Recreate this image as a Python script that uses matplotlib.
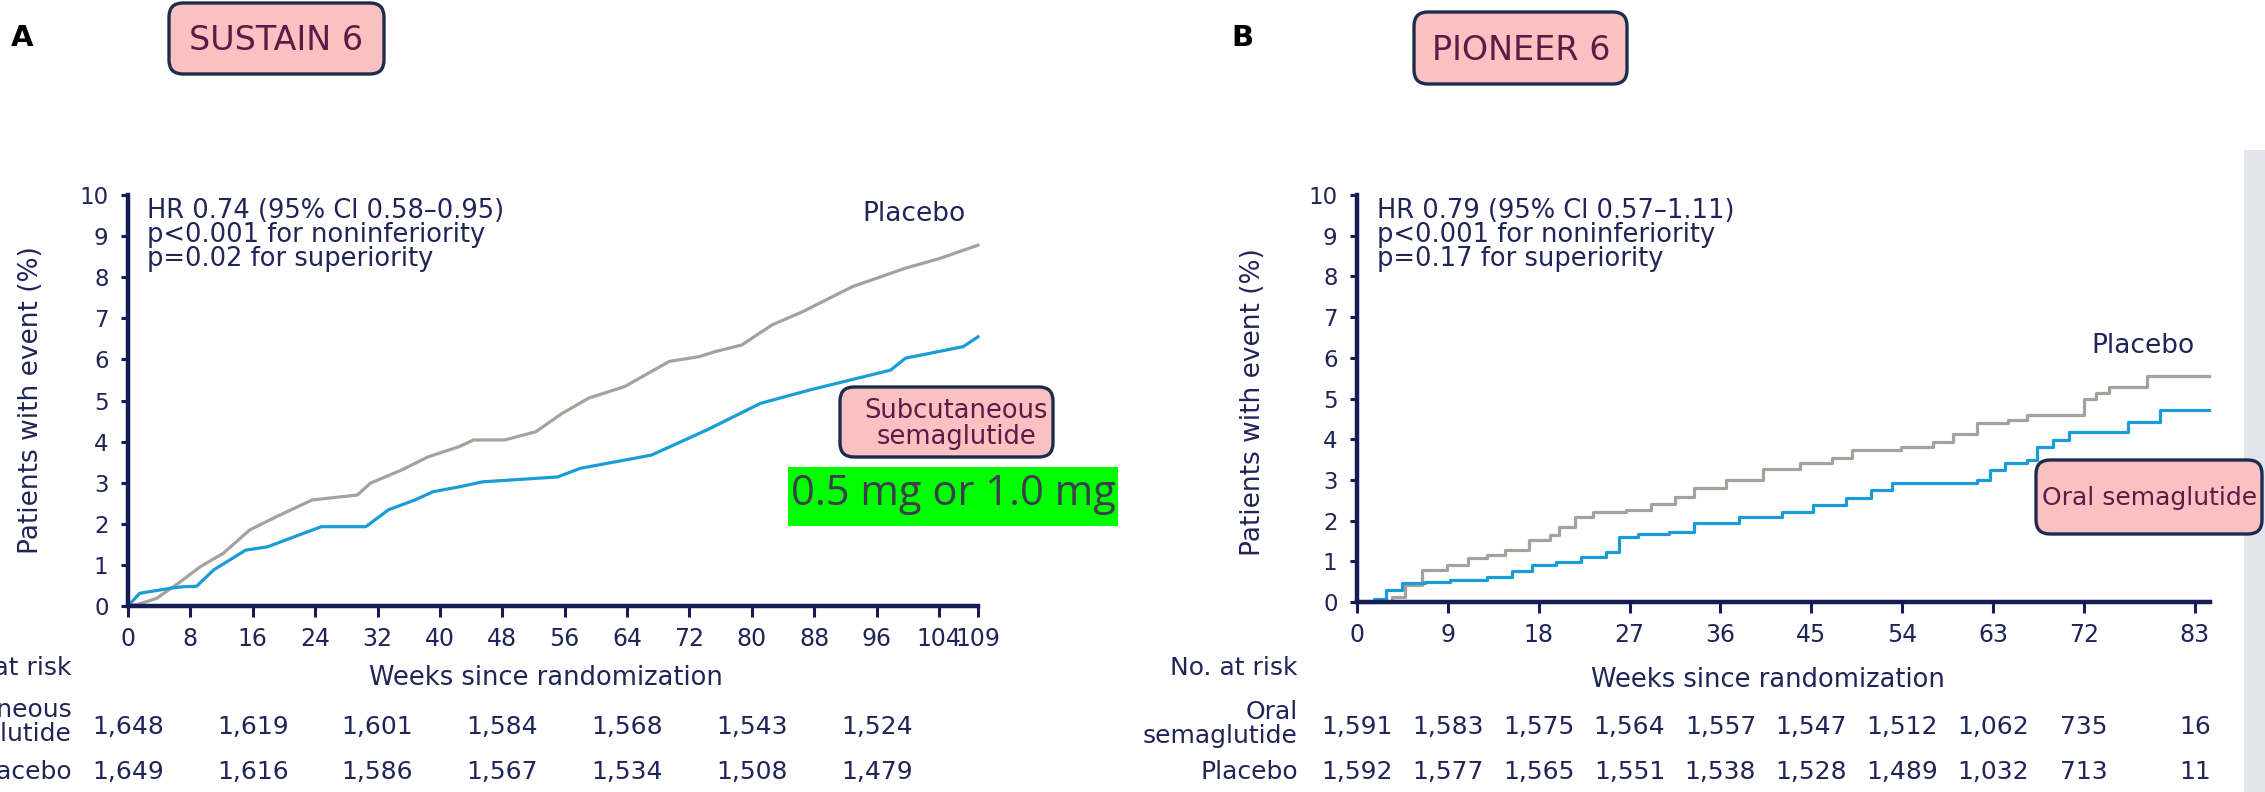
import matplotlib
matplotlib.use("Agg")

import matplotlib.pyplot as plt
from matplotlib.patches import FancyBboxPatch, Rectangle
from matplotlib.transforms import IdentityTransform, blended_transform_factory

W, H = 2265, 792
NAVY = "#161d55"
TEXT = "#1f2557"
GREY = "#a7a19b"
BLUE = "#1a9dd6"
PINK = "#f9c1c1"
BOX_EDGE = "#1e2c4c"
PLUM = "#5a1c45"

# ---- panel A: SUSTAIN 6 ----
sustain_placebo_weeks = [0, 1.5, 3.7, 6.5, 9.3, 12.2, 15.6, 19, 23.6, 29.4, 31.1, 35.1, 38.5, 42.5, 44.3,
                         48.3, 52.3, 55.7, 59.1, 63.7, 69.4, 73.3, 75.3, 78.7, 82.6, 86.5, 92.9, 99.7, 104, 109]
sustain_placebo = [0, 0.05, 0.19, 0.56, 0.96, 1.28, 1.85, 2.17, 2.58, 2.7, 2.99, 3.31, 3.63, 3.88, 4.04,
                   4.04, 4.24, 4.69, 5.06, 5.34, 5.95, 6.07, 6.19, 6.35, 6.84, 7.16, 7.77, 8.22, 8.45, 8.78]
sustain_sema_weeks = [0, 1.5, 5.4, 7.1, 8.8, 11, 15.1, 17.9, 21.4, 24.8, 30.5, 33.4, 36.8, 39.1, 42.5, 45.4,
                      55.1, 58, 63.7, 67.1, 74.2, 81.1, 87.5, 97.8, 99.7, 107.1, 109]
sustain_sema = [0, 0.31, 0.43, 0.47, 0.48, 0.88, 1.36, 1.44, 1.69, 1.93, 1.93, 2.34, 2.58, 2.78, 2.9, 3.02,
                3.14, 3.35, 3.55, 3.67, 4.28, 4.93, 5.26, 5.74, 6.03, 6.31, 6.55]
sustain_ticks = [0, 8, 16, 24, 32, 40, 48, 56, 64, 72, 80, 88, 96, 104, 109]
sustain_risk_weeks = [0, 16, 32, 48, 64, 80, 96]
sustain_risk_sema = ["1,648", "1,619", "1,601", "1,584", "1,568", "1,543", "1,524"]
sustain_risk_placebo = ["1,649", "1,616", "1,586", "1,567", "1,534", "1,508", "1,479"]
sustain_stats = "HR 0.74 (95% Cl 0.58\u20130.95)\np<0.001 for noninferiority\np=0.02 for superiority"

# ---- panel B: PIONEER 6 ----
pioneer_placebo_weeks = [0, 3.5, 4.8, 6.4, 8.9, 11.0, 12.9, 14.7, 17.0, 19.1, 20.0, 21.6, 23.4, 26.6, 29.1,
                         31.5, 33.4, 36.6, 40.2, 43.9, 47.1, 49.0, 53.9, 57.1, 59.0, 61.4, 64.5, 66.4, 72.0,
                         73.2, 74.5, 78.3, 84.4]
pioneer_placebo = [0, 0.13, 0.42, 0.79, 0.91, 1.07, 1.16, 1.28, 1.52, 1.65, 1.85, 2.1, 2.22, 2.26, 2.42,
                   2.59, 2.79, 3.0, 3.28, 3.41, 3.53, 3.73, 3.81, 3.94, 4.14, 4.39, 4.47, 4.59, 5.0,
                   5.13, 5.29, 5.55, 5.55]
pioneer_sema_weeks = [0, 1.7, 2.9, 4.5, 6.7, 9.2, 12.9, 15.4, 17.3, 19.7, 22.2, 24.7, 26.0, 27.8, 30.9, 33.4,
                      37.8, 42.1, 45.2, 48.4, 50.9, 53.0, 61.4, 62.7, 64.2, 66.4, 67.4, 68.9, 70.5, 76.4,
                      79.5, 84.4]
pioneer_sema = [0, 0.07, 0.29, 0.46, 0.5, 0.54, 0.62, 0.75, 0.91, 0.99, 1.11, 1.24, 1.6, 1.68, 1.72, 1.93,
                2.1, 2.22, 2.38, 2.55, 2.75, 2.92, 3.0, 3.24, 3.41, 3.49, 3.82, 3.98, 4.18, 4.43,
                4.72, 4.72]
pioneer_ticks = [0, 9, 18, 27, 36, 45, 54, 63, 72, 83]
pioneer_risk_sema = ["1,591", "1,583", "1,575", "1,564", "1,557", "1,547", "1,512", "1,062", "735", "16"]
pioneer_risk_placebo = ["1,592", "1,577", "1,565", "1,551", "1,538", "1,528", "1,489", "1,032", "713", "11"]
pioneer_stats = "HR 0.79 (95% Cl 0.57\u20131.11)\np<0.001 for noninferiority\np=0.17 for superiority"

fig = plt.figure(figsize=(W / 100, H / 100), dpi=100)
fig.patch.set_facecolor("white")
px = IdentityTransform()


def fy(y):
    # pixel rows are counted from the top in the reference
    return H - y


def put(x, y, s, **kw):
    kw.setdefault("color", TEXT)
    kw.setdefault("zorder", 8)
    return fig.text(x, fy(y), s, transform=px, **kw)


def label_box(x0, y0, x1, y1, face=PINK, rounded=True):
    style = "round,pad=0,rounding_size=14" if rounded else "square,pad=0"
    edge = BOX_EDGE if rounded else "none"
    fig.add_artist(FancyBboxPatch((x0, fy(y1)), x1 - x0, y1 - y0, boxstyle=style, transform=px,
                                  facecolor=face, edgecolor=edge, linewidth=2.4, zorder=6))


def setup_axes(x0, x1, y_top, y_bottom, xlim, ticks):
    ax = fig.add_axes([x0 / W, 1 - y_bottom / H, (x1 - x0) / W, (y_bottom - y_top) / H])
    ax.set_xlim(*xlim)
    ax.set_ylim(0, 10)
    ax.patch.set_alpha(0)
    for side in ("top", "right"):
        ax.spines[side].set_visible(False)
    for side in ("left", "bottom"):
        ax.spines[side].set_color(NAVY)
        ax.spines[side].set_linewidth(3.2)
        ax.spines[side].set_zorder(5)
    ax.set_xticks(ticks)
    ax.set_xticklabels([str(t) for t in ticks])
    ax.set_yticks(range(0, 11))
    ax.tick_params(axis="x", direction="out", length=8, width=2.2, color=NAVY,
                   labelsize=17, labelcolor=TEXT, pad=7)
    ax.tick_params(axis="y", direction="out", length=5, width=2.2, color=NAVY,
                   labelsize=16.5, labelcolor=TEXT, pad=9)
    return ax


# ---------------- panel A ----------------
ax_a = setup_axes(128, 978, 195, 606, (0, 109), sustain_ticks)
ax_a.plot(sustain_placebo_weeks, sustain_placebo, color=GREY, lw=2.3, clip_on=False, zorder=3)
ax_a.plot(sustain_sema_weeks, sustain_sema, color=BLUE, lw=2.3, clip_on=False, zorder=4)

put(22, 38, "A", fontsize=21, fontweight="bold", color="black", ha="center", va="center")
label_box(169, 3, 384, 74)
put(276, 40, "SUSTAIN 6", fontsize=24, color=PLUM, ha="center", va="center")

put(147, 235, sustain_stats, fontsize=18.5, ha="left", va="center", linespacing=0.92)
put(914, 214, "Placebo", fontsize=19, ha="center", va="center")
label_box(840, 387, 1053, 457)
put(956, 424, "Subcutaneous\nsemaglutide", fontsize=18.5, color=PLUM, ha="center", va="center",
    linespacing=0.95)
label_box(788, 467, 1118, 526, face="#00ff00", rounded=False)
put(953, 494, "0.5 mg or 1.0 mg", fontsize=30, family="Open Sans", color="#3d3d4d",
    ha="center", va="center")

put(31, 400, "Patients with event (%)", fontsize=19, rotation=90, ha="center", va="center")
put(546, 678, "Weeks since randomization", fontsize=18.5, ha="center", va="center")
put(72, 668, "No. at risk", fontsize=18, ha="right", va="center")
put(72, 722, "Subcutaneous\nsemaglutide", fontsize=18, ha="right", va="center", linespacing=0.95)
put(72, 772, "Placebo", fontsize=18, ha="right", va="center")

risk_a = blended_transform_factory(ax_a.transData, px)
for wk, n1, n2 in zip(sustain_risk_weeks, sustain_risk_sema, sustain_risk_placebo):
    ax_a.text(wk, fy(727), n1, transform=risk_a, fontsize=18, color=TEXT, ha="center", va="center", clip_on=False)
    ax_a.text(wk, fy(772), n2, transform=risk_a, fontsize=18, color=TEXT, ha="center", va="center", clip_on=False)

# ---------------- panel B ----------------
ax_b = setup_axes(1357, 2210, 195, 602, (0, 84.5), pioneer_ticks)
ax_b.plot(pioneer_placebo_weeks, pioneer_placebo, color=GREY, lw=2.3, drawstyle="steps-post",
          clip_on=False, zorder=3)
ax_b.plot(pioneer_sema_weeks, pioneer_sema, color=BLUE, lw=2.3, drawstyle="steps-post",
          clip_on=False, zorder=4)

put(1242, 38, "B", fontsize=21, fontweight="bold", color="black", ha="center", va="center")
label_box(1414, 12, 1627, 84)
put(1521, 50, "PIONEER 6", fontsize=24, color=PLUM, ha="center", va="center")

put(1377, 235, pioneer_stats, fontsize=18.5, ha="left", va="center", linespacing=0.92)
put(2143, 346, "Placebo", fontsize=19, ha="center", va="center")
label_box(2036, 460, 2262, 534)
put(2150, 498, "Oral semaglutide", fontsize=18, color=PLUM, ha="center", va="center")

put(1253, 402, "Patients with event (%)", fontsize=19, rotation=90, ha="center", va="center")
put(1768, 680, "Weeks since randomization", fontsize=18.5, ha="center", va="center")
put(1298, 668, "No. at risk", fontsize=18, ha="right", va="center")
put(1298, 724, "Oral\nsemaglutide", fontsize=18, ha="right", va="center", linespacing=0.95)
put(1298, 772, "Placebo", fontsize=18, ha="right", va="center")

risk_b = blended_transform_factory(ax_b.transData, px)
for wk, n1, n2 in zip(pioneer_ticks, pioneer_risk_sema, pioneer_risk_placebo):
    ax_b.text(wk, fy(727), n1, transform=risk_b, fontsize=18, color=TEXT, ha="center", va="center", clip_on=False)
    ax_b.text(wk, fy(772), n2, transform=risk_b, fontsize=18, color=TEXT, ha="center", va="center", clip_on=False)

# faint slide background showing at the right edge
fig.add_artist(Rectangle((2244, 0), 21, fy(150), transform=px, facecolor="#e2e5ec", edgecolor="none", zorder=0))

fig.savefig("out.png", dpi=100, facecolor="white")
